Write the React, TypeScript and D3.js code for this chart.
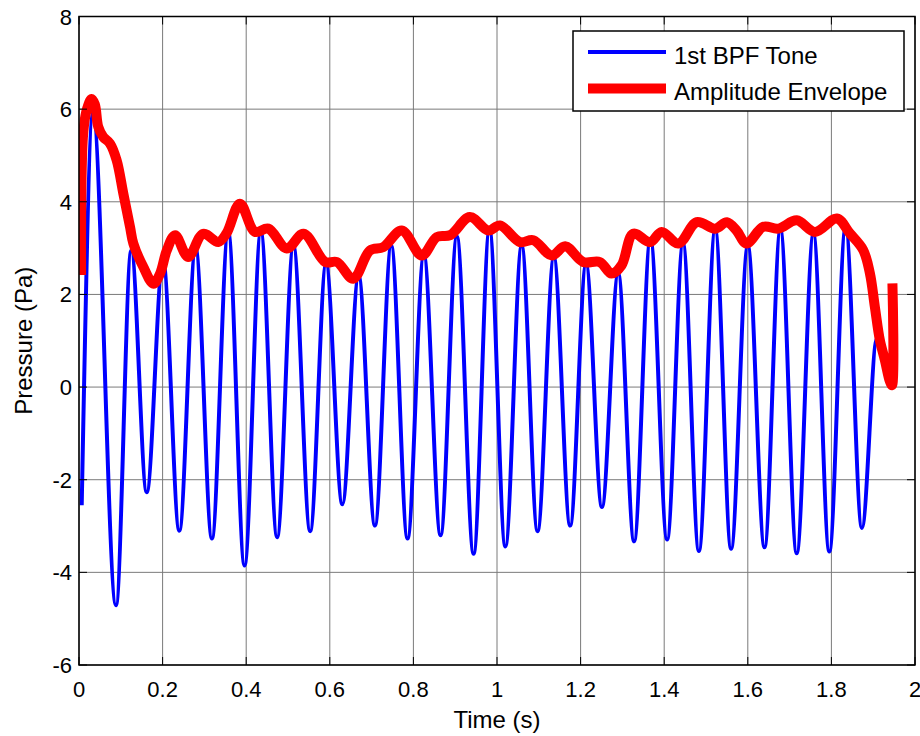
import React from "react";
import * as d3 from "d3";

// Blue tone: times (s) and values (Pa) at the start, each peak/trough, and the end
const toneT = [0.0065, 0.0335, 0.0885, 0.125, 0.162, 0.201, 0.240, 0.279, 0.318, 0.357, 0.396, 0.435, 0.474, 0.513, 0.553, 0.591, 0.630, 0.669, 0.708, 0.747, 0.786, 0.825, 0.865, 0.904, 0.944, 0.982, 1.020, 1.059, 1.097, 1.136, 1.175, 1.213, 1.251, 1.290, 1.328, 1.367, 1.407, 1.445, 1.483, 1.522, 1.560, 1.600, 1.640, 1.678, 1.717, 1.757, 1.795, 1.834, 1.873, 1.909, 1.932];
const toneV = [-2.55, 5.9, -4.71, 2.95, -2.27, 2.75, -3.10, 3.0, -3.27, 3.35, -3.85, 3.35, -3.24, 3.05, -3.11, 2.65, -2.53, 2.4, -2.99, 3.05, -3.27, 2.85, -3.20, 3.25, -3.60, 3.4, -3.44, 3.05, -3.11, 2.8, -2.99, 2.65, -2.59, 2.45, -3.33, 3.2, -3.29, 3.1, -3.54, 3.4, -3.49, 3.05, -3.46, 3.4, -3.59, 3.3, -3.55, 3.45, -3.04, 1.05, 0.3];

// Red amplitude envelope
const envT = [0.005, 0.010, 0.019, 0.030, 0.038, 0.046, 0.058, 0.074, 0.090, 0.106, 0.122, 0.130, 0.154, 0.178, 0.194, 0.210, 0.230, 0.261, 0.297, 0.333, 0.353, 0.385, 0.421, 0.453, 0.497, 0.537, 0.589, 0.617, 0.656, 0.696, 0.728, 0.772, 0.820, 0.856, 0.888, 0.935, 0.979, 1.007, 1.055, 1.087, 1.131, 1.163, 1.206, 1.246, 1.274, 1.298, 1.326, 1.366, 1.394, 1.434, 1.478, 1.522, 1.550, 1.573, 1.597, 1.637, 1.673, 1.717, 1.761, 1.813, 1.844, 1.876, 1.892, 1.904, 1.916, 1.928, 1.940, 1.945, 1.946];
const envV = [2.42, 5.47, 6.0, 6.22, 6.1, 5.62, 5.40, 5.26, 4.90, 4.18, 3.46, 3.10, 2.59, 2.23, 2.45, 2.95, 3.28, 2.81, 3.31, 3.13, 3.32, 3.96, 3.35, 3.42, 2.99, 3.31, 2.70, 2.70, 2.34, 2.95, 3.02, 3.38, 2.84, 3.24, 3.28, 3.67, 3.38, 3.49, 3.13, 3.17, 2.84, 3.04, 2.70, 2.70, 2.45, 2.63, 3.31, 3.13, 3.35, 3.10, 3.56, 3.42, 3.56, 3.38, 3.10, 3.46, 3.42, 3.60, 3.35, 3.64, 3.32, 2.96, 2.46, 1.73, 1.01, 0.58, 0.12, 0.04, 2.24];

const xTicks = [0, 0.2, 0.4, 0.6, 0.8, 1, 1.2, 1.4, 1.6, 1.8, 2];
const yTicks = [-6, -4, -2, 0, 2, 4, 6, 8];
const legendLabels = ["1st BPF Tone", "Amplitude Envelope"];

const W = 920;
const H = 736;
const M = { left: 79, top: 16.5, right: 915, bottom: 665 };
const FONT = "'Liberation Sans', Arial, sans-serif";

export default function App() {
  const x = d3.scaleLinear().domain([0, 2]).range([M.left, M.right]);
  const y = d3.scaleLinear().domain([-6, 8]).range([M.bottom, M.top]);

  const tone = toneT.map((t, i) => [t, toneV[i]] as [number, number]);
  const env = envT.map((t, i) => [t, envV[i]] as [number, number]);

  const toneLine = d3
    .line<[number, number]>()
    .x((d) => x(d[0]))
    .y((d) => y(d[1]))
    .curve(d3.curveMonotoneX);
  const envLine = d3
    .line<[number, number]>()
    .x((d) => x(d[0]))
    .y((d) => y(d[1]))
    .curve(d3.curveCatmullRom.alpha(0.5));

  const fmt = (v: number) => String(v);

  return (
    <svg
      width={W}
      height={H}
      style={{ position: "absolute", left: 0, top: 0, background: "#fff" }}
      fontFamily={FONT}
    >
      <defs>
        <clipPath id="plotclip">
          <rect x={M.left} y={M.top} width={M.right - M.left} height={M.bottom - M.top} />
        </clipPath>
      </defs>
      <rect x={0} y={0} width={W} height={H} fill="#fff" />
      {/* grid */}
      {xTicks.map((t) => (
        <line key={"gx" + t} x1={x(t)} x2={x(t)} y1={M.top} y2={M.bottom} stroke="#7a7a7a" strokeWidth={1} />
      ))}
      {yTicks.map((t) => (
        <line key={"gy" + t} x1={M.left} x2={M.right} y1={y(t)} y2={y(t)} stroke="#7a7a7a" strokeWidth={1} />
      ))}
      {/* data */}
      <g clipPath="url(#plotclip)">
        <path d={toneLine(tone) || ""} fill="none" stroke="#0000ff" strokeWidth={4} strokeLinejoin="round" />
        <path d={envLine(env) || ""} fill="none" stroke="#ff0000" strokeWidth={10} strokeLinejoin="round" strokeLinecap="butt" />
      </g>
      {/* ticks */}
      {xTicks.map((t) => (
        <g key={"tx" + t}>
          <line x1={x(t)} x2={x(t)} y1={M.bottom} y2={M.bottom - 8} stroke="#000" />
          <line x1={x(t)} x2={x(t)} y1={M.top} y2={M.top + 8} stroke="#000" />
          <text x={x(t)} y={697} textAnchor="middle" fontSize={22} fill="#000">
            {fmt(t)}
          </text>
        </g>
      ))}
      {yTicks.map((t) => (
        <g key={"ty" + t}>
          <line x1={M.left} x2={M.left + 8} y1={y(t)} y2={y(t)} stroke="#000" />
          <line x1={M.right} x2={M.right - 8} y1={y(t)} y2={y(t)} stroke="#000" />
          <text x={72} y={y(t) + 8} textAnchor="end" fontSize={22} fill="#000">
            {fmt(t)}
          </text>
        </g>
      ))}
      {/* axes box */}
      <rect
        x={M.left}
        y={M.top}
        width={M.right - M.left}
        height={M.bottom - M.top}
        fill="none"
        stroke="#000"
        strokeWidth={1.5}
      />
      {/* axis labels */}
      <text x={(M.left + M.right) / 2} y={728} textAnchor="middle" fontSize={24} fill="#000">
        Time (s)
      </text>
      <text
        transform={`translate(31.5, ${(M.top + M.bottom) / 2}) rotate(-90)`}
        textAnchor="middle"
        fontSize={24}
        fill="#000"
      >
        Pressure (Pa)
      </text>
      {/* legend */}
      <g>
        <rect x={573} y={31} width={331} height={80} fill="#fff" stroke="#000" strokeWidth={1.5} />
        <line x1={588} x2={666} y1={52} y2={52} stroke="#0000ff" strokeWidth={4} />
        <line x1={588} x2={666} y1={88.5} y2={88.5} stroke="#ff0000" strokeWidth={10} />
        <text x={674} y={64} fontSize={24} fill="#000">
          {legendLabels[0]}
        </text>
        <text x={674} y={99.5} fontSize={24} fill="#000">
          {legendLabels[1]}
        </text>
      </g>
    </svg>
  );
}
